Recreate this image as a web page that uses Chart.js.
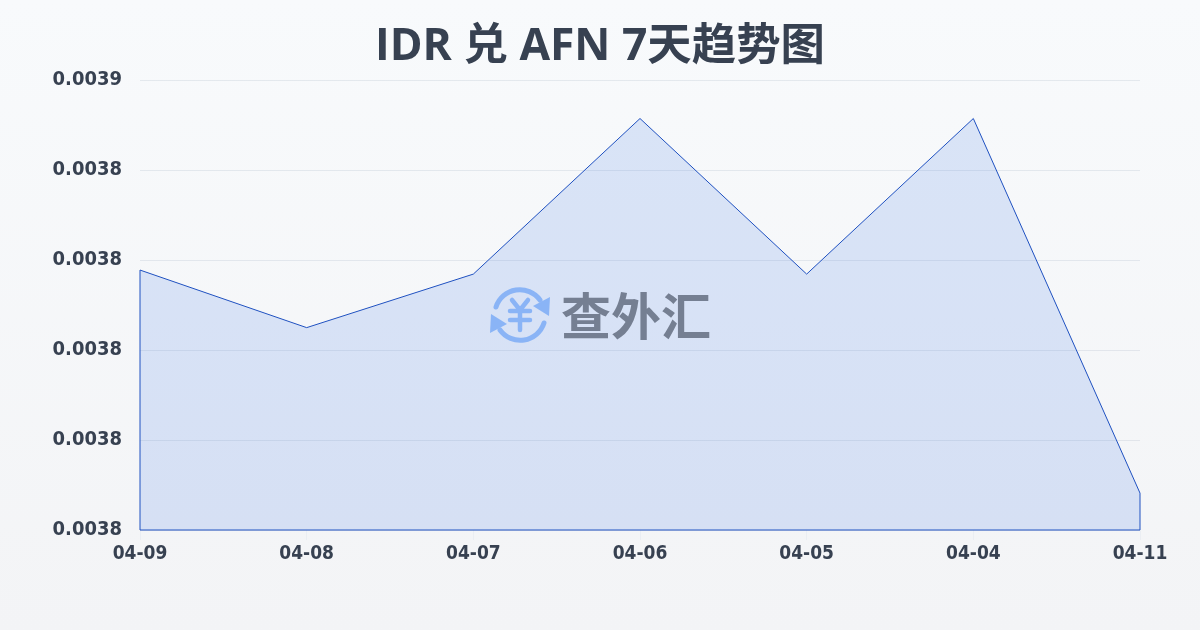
<!DOCTYPE html>
<html>
<head>
<meta charset="utf-8">
<script src="https://cdn.jsdelivr.net/npm/chart.js@4"></script>
<style>
html, body { margin: 0; padding: 0; }
body { width: 1200px; height: 630px; overflow: hidden; position: relative; background: linear-gradient(180deg, #f8fafc, #f3f4f6); }
#wrap { position: absolute; left: 0; top: 0; width: 1200px; height: 630px; }
#logo { position: absolute; left: 489px; top: 284px; width: 62px; height: 62px; }
#brand { position: absolute; left: 561px; top: 277px; font: 700 50px/72px "Noto Sans CJK SC"; color: #757f92; white-space: nowrap; }
</style>
</head>
<body>
<div id="wrap"><canvas id="myChart" width="1200" height="630"></canvas></div>
<svg id="logo" viewBox="0 0 62 62" fill="none" stroke="#8ab4f6" stroke-linecap="round" stroke-linejoin="round">
  <path d="M7 23 A25 25 0 0 1 51 16" stroke-width="5"/>
  <path d="M61 13 L60 32 L44 22 Z" fill="#8ab4f6" stroke="none"/>
  <path d="M55 39 A25 25 0 0 1 11 46" stroke-width="5"/>
  <path d="M1 49 L2 30 L18 40 Z" fill="#8ab4f6" stroke="none"/>
  <path d="M23 16 L31 26 L39 16 M21 27 H41 M21 36 H41 M31 26 V46" stroke-width="4.5"/>
</svg>
<div id="brand">查外汇</div>
<script>
var labels = ['04-09', '04-08', '04-07', '04-06', '04-05', '04-04', '04-11'];
var rates = [0.0038178, 0.003805, 0.0038169, 0.0038515, 0.0038169, 0.0038515, 0.0037682];
var yMin = 0.00376;
var yMax = 0.00386;
var yStep = 0.00002;

var titleText = 'IDR 兑 AFN 7天趋势图';
var titleFam = '"Open Sans", "Noto Sans CJK SC", sans-serif';
var tickFam = '"DejaVu Sans Condensed", sans-serif';
var textCol = '#374151';
var lineCol = '#1e50c0';

// de lijn loopt in het origineel rondom, ook langs de zijkanten en onderkant
var outline = {
    id: 'outline',
    afterDatasetsDraw: function(chart) {
        var pts = chart.getDatasetMeta(0).data;
        var bottom = chart.scales.y.getPixelForValue(yMin);
        var c = chart.ctx;
        c.save();
        c.strokeStyle = lineCol;
        c.lineWidth = 1;
        c.beginPath();
        c.moveTo(pts[0].x, pts[0].y);
        c.lineTo(pts[0].x, bottom);
        c.lineTo(pts[pts.length - 1].x, bottom);
        c.lineTo(pts[pts.length - 1].x, pts[pts.length - 1].y);
        c.stroke();
        c.restore();
    }
};

var ctx = document.getElementById('myChart').getContext('2d');
var chart = new Chart(ctx, {
    type: 'line',
    plugins: [outline],
    data: {
        labels: labels,
        datasets: [{
            data: rates,
            borderColor: lineCol,
            borderWidth: 1,
            backgroundColor: 'rgba(50, 110, 230, 0.15)',
            fill: true,
            tension: 0,
            pointRadius: 0,
            clip: false
        }]
    },
    options: {
        responsive: false,
        animation: false,
        layout: { padding: { left: 0, right: 0, top: 21, bottom: 0 } },
        plugins: {
            legend: { display: false },
            tooltip: { enabled: false },
            title: {
                display: true,
                text: titleText,
                color: textCol,
                font: { family: titleFam, size: 44.4, weight: '700', lineHeight: 1.2 },
                padding: { top: 0, bottom: 6 }
            }
        },
        scales: {
            x: {
                grid: { drawOnChartArea: false, color: 'rgba(226, 232, 240, 0.5)', tickLength: 10 },
                border: { display: false },
                ticks: {
                    color: textCol,
                    padding: 3,
                    maxRotation: 0,
                    autoSkip: false,
                    font: { family: tickFam, size: 19, weight: '700' }
                },
                afterFit: function(s) { s.height = 100; }
            },
            y: {
                min: yMin,
                max: yMax,
                grid: { color: 'rgba(148, 163, 184, 0.2)', drawTicks: false },
                border: { display: false },
                ticks: {
                    stepSize: yStep,
                    color: textCol,
                    padding: 18,
                    font: { family: tickFam, size: 20, weight: '700' },
                    callback: function(v) { return v.toFixed(4); }
                },
                afterFit: function(s) { s.width = 140; }
            },
            // lege as rechts, houdt de titel in het midden van het plaatje
            yRight: {
                position: 'right',
                grid: { display: false },
                border: { display: false },
                ticks: { display: false },
                afterFit: function(s) { s.width = 60; }
            }
        }
    }
});
</script>
</body>
</html>
